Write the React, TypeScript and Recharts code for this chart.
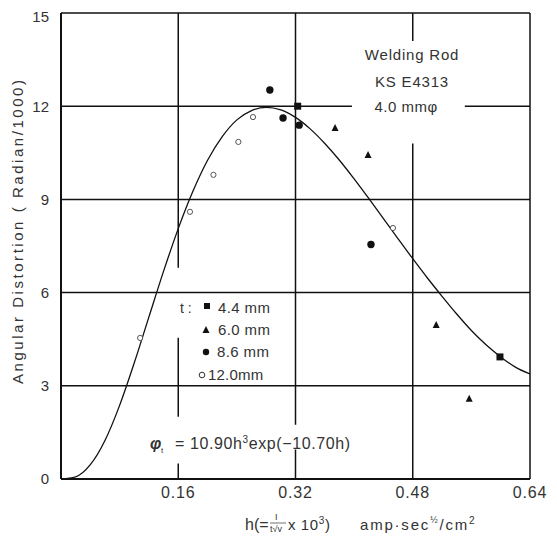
import React from "react";
import {
  ComposedChart,
  Line,
  Scatter,
  XAxis,
  YAxis,
  ReferenceLine,
  Customized,
} from "recharts";

// ---- data ----
const xTickValues = [0.16, 0.32, 0.48, 0.64];
const yTickValues = [0, 3, 6, 9, 12, 15];

// fitted curve  phi_t = 10.90 h^3 exp(-10.70 h)
const curveH = [0, 0.02, 0.04, 0.06, 0.08, 0.1, 0.12, 0.14, 0.16, 0.18, 0.2, 0.22, 0.24, 0.26, 0.28, 0.3, 0.32, 0.34, 0.36, 0.38, 0.4, 0.42, 0.44, 0.46, 0.48, 0.5, 0.52, 0.54, 0.56, 0.58, 0.6, 0.62, 0.64];
const curvePhi = [0, 0.07, 0.46, 1.24, 2.37, 3.74, 5.22, 6.69, 8.06, 9.26, 10.26, 11.02, 11.56, 11.86, 11.96, 11.88, 11.64, 11.27, 10.8, 10.26, 9.66, 9.03, 8.38, 7.73, 7.09, 6.47, 5.88, 5.31, 4.78, 4.32, 3.93, 3.6, 3.38];

// t = 4.4 mm (filled squares)
const t44H = [0.323, 0.599];
const t44Phi = [12.0, 3.93];
// t = 6.0 mm (filled triangles)
const t60H = [0.374, 0.419, 0.512, 0.557];
const t60Phi = [11.3, 10.43, 4.96, 2.58];
// t = 8.6 mm (filled circles)
const t86H = [0.285, 0.303, 0.325, 0.423];
const t86Phi = [12.52, 11.62, 11.39, 7.55];
// t = 12.0 mm (open circles)
const t120H = [0.108, 0.176, 0.208, 0.242, 0.262, 0.453];
const t120Phi = [4.54, 8.6, 9.79, 10.85, 11.65, 8.08];

const zip = (hs: number[], ps: number[]) => hs.map((h, i) => ({ h, phi: ps[i] }));
const curveData = zip(curveH, curvePhi);
const d44 = zip(t44H, t44Phi);
const d60 = zip(t60H, t60Phi);
const d86 = zip(t86H, t86Phi);
const d120 = zip(t120H, t120Phi);

const FONT = "'Liberation Sans', Arial, sans-serif";
const INK = "#111";
const TXT = "#333";

const Square = (p: any) => (
  <rect x={p.cx - 3.5} y={p.cy - 3.5} width={7} height={7} fill={INK} />
);
const Tri = (p: any) => (
  <polygon points={`${p.cx},${p.cy - 4} ${p.cx - 3.5},${p.cy + 3} ${p.cx + 3.5},${p.cy + 3}`} fill={INK} />
);
const Dot = (p: any) => <circle cx={p.cx} cy={p.cy} r={3.7} fill={INK} />;
const Ring = (p: any) => (
  <circle cx={p.cx} cy={p.cy} r={2.6} fill="#fff" stroke="#444" strokeWidth={0.9} />
);

const gridProps = { stroke: INK, strokeWidth: 1.5, ifOverflow: "visible" as const };

const Overlay = () => (
  <g fontFamily={FONT} fill={TXT}>
    {/* y axis title */}
    <text
      x={0}
      y={0}
      transform="translate(15,224) rotate(-90)"
      textAnchor="middle"
      fontSize={15}
      textLength={304}
      lengthAdjust="spacing"
    >
      Angular Distortion ( Radian/1000)
    </text>

    {/* welding rod note */}
    <text x={404} y={52} textAnchor="middle" fontSize={15} letterSpacing={0.8}>Welding Rod</text>
    <text x={404} y={79} textAnchor="middle" fontSize={15} letterSpacing={0.8}>KS E4313</text>
    <text x={398} y={104} textAnchor="middle" fontSize={15} letterSpacing={0.5}>4.0 mmφ</text>

    {/* legend */}
    <text x={172} y={305} fontSize={14}>t :</text>
    <rect x={196} y={295} width={6} height={6} fill={INK} />
    <text x={210} y={305} fontSize={15} letterSpacing={0.4}>4.4 mm</text>
    <polygon points="198,318 194.5,325 201.5,325" fill={INK} />
    <text x={210} y={327} fontSize={15} letterSpacing={0.4}>6.0 mm</text>
    <circle cx={198} cy={344} r={3.2} fill={INK} />
    <text x={209} y={349} fontSize={15} letterSpacing={0.4}>8.6 mm</text>
    <circle cx={194} cy={367} r={2.8} fill="#fff" stroke="#333" strokeWidth={1} />
    <text x={200} y={372} fontSize={15} letterSpacing={0.2}>12.0mm</text>

    {/* formula */}
    <text x={142} y={441} fontSize={16} fontWeight="bold" fontStyle="italic">φ</text>
    <text x={153} y={445} fontSize={8}>t</text>
    <text x={167} y={441} fontSize={16}>=</text>
    <text x={182} y={441} fontSize={16} letterSpacing={0.6}>
      10.90h
      <tspan fontSize={10} dy={-6}>3</tspan>
      <tspan dy={6}>exp(−10.70h)</tspan>
    </text>

    {/* x axis title */}
    <text x={237} y={522} fontSize={16}>h(=</text>
    <text x={267} y={512} fontSize={9}>I</text>
    <line x1={262} y1={515} x2={278} y2={515} stroke={TXT} strokeWidth={0.7} />
    <text x={262} y={524} fontSize={9}>t√v</text>
    <text x={280} y={522} fontSize={15} letterSpacing={0.6}>
      x 10
      <tspan fontSize={10} dy={-6}>3</tspan>
      <tspan dy={6}>)</tspan>
    </text>
    <text x={352} y={522} fontSize={15} letterSpacing={1.8}>
      amp·sec
      <tspan fontSize={9} dy={-7}>½</tspan>
      <tspan dy={7}>/cm</tspan>
      <tspan fontSize={10} dy={-6}>2</tspan>
    </text>
  </g>
);

export default function App() {
  return (
    <ComposedChart
      width={541}
      height={527}
      margin={{ top: 5, right: 19, bottom: 0, left: 0 }}
      style={{ background: "#fff" }}
    >
      <XAxis
        dataKey="h"
        type="number"
        domain={[0, 0.64]}
        ticks={xTickValues}
        allowDataOverflow
        tickLine={false}
        tickSize={6}
        tickMargin={2}
        height={56}
        axisLine={{ stroke: INK, strokeWidth: 2 }}
        tick={{ fill: TXT, fontSize: 16, fontFamily: FONT, letterSpacing: 0.8 }}
        tickFormatter={(v: number) => v.toFixed(2)}
      />
      <YAxis
        dataKey="phi"
        type="number"
        domain={[0, 15]}
        ticks={yTickValues}
        allowDataOverflow
        tickLine={false}
        tickSize={10}
        tickMargin={2}
        width={53}
        axisLine={{ stroke: INK, strokeWidth: 2 }}
        tick={{ fill: TXT, fontSize: 15, fontFamily: FONT }}
      />

      {/* frame */}
      <ReferenceLine y={15} {...gridProps} />
      <ReferenceLine x={0.64} {...gridProps} />

      {/* horizontal grid */}
      <ReferenceLine y={3} {...gridProps} />
      <ReferenceLine y={6} {...gridProps} />
      <ReferenceLine y={9} {...gridProps} />
      <ReferenceLine segment={[{ x: 0, y: 12 }, { x: 0.397, y: 12 }]} {...gridProps} />
      <ReferenceLine segment={[{ x: 0.551, y: 12 }, { x: 0.64, y: 12 }]} {...gridProps} />

      {/* vertical grid */}
      <ReferenceLine segment={[{ x: 0.16, y: 15 }, { x: 0.16, y: 6.8 }]} {...gridProps} />
      <ReferenceLine segment={[{ x: 0.16, y: 4.55 }, { x: 0.16, y: 2.0 }]} {...gridProps} />
      <ReferenceLine segment={[{ x: 0.16, y: 0.5 }, { x: 0.16, y: 0 }]} {...gridProps} />
      <ReferenceLine segment={[{ x: 0.32, y: 15 }, { x: 0.32, y: 1.75 }]} {...gridProps} />
      <ReferenceLine segment={[{ x: 0.32, y: 0.95 }, { x: 0.32, y: 0 }]} {...gridProps} />
      <ReferenceLine segment={[{ x: 0.48, y: 15 }, { x: 0.48, y: 14.1 }]} {...gridProps} />
      <ReferenceLine segment={[{ x: 0.48, y: 10.8 }, { x: 0.48, y: 0 }]} {...gridProps} />

      <Line
        data={curveData}
        dataKey="phi"
        type="monotone"
        stroke={INK}
        strokeWidth={1.3}
        dot={false}
        activeDot={false}
        isAnimationActive={false}
      />
      <Scatter data={d44} dataKey="phi" shape={Square} isAnimationActive={false} />
      <Scatter data={d60} dataKey="phi" shape={Tri} isAnimationActive={false} />
      <Scatter data={d86} dataKey="phi" shape={Dot} isAnimationActive={false} />
      <Scatter data={d120} dataKey="phi" shape={Ring} isAnimationActive={false} />

      <Customized component={<Overlay />} />
    </ComposedChart>
  );
}
